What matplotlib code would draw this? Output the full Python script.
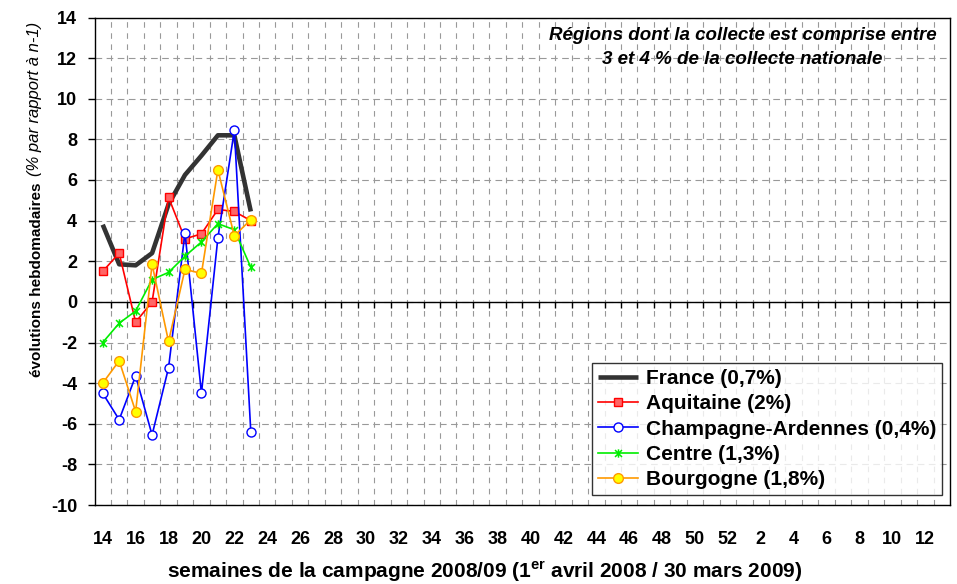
import numpy as np
import matplotlib
matplotlib.use("Agg")
import matplotlib.pyplot as plt
from matplotlib.path import Path

plt.rcParams["font.family"] = ["Liberation Sans", "DejaVu Sans"]
plt.rcParams["axes.unicode_minus"] = False
plt.rcParams["mathtext.fontset"] = "custom"
plt.rcParams["mathtext.bf"] = "Liberation Sans:bold"

# campaign weeks: 14..52 then 1..13
weeks = list(range(14, 53)) + list(range(1, 14))
tick_labels = [str(w) if i % 2 == 0 else "" for i, w in enumerate(weeks)]

france = [3.8, 1.85, 1.8, 2.4, 4.8, 6.25, 7.2, 8.2, 8.2, 4.45]
aquitaine = [1.5, 2.4, -1.0, 0.0, 5.15, 3.1, 3.35, 4.55, 4.45, 4.0]
champagne = [-4.5, -5.8, -3.65, -6.55, -3.25, 3.4, -4.5, 3.15, 8.45, -6.4]
centre = [-2.0, -1.05, -0.45, 1.1, 1.45, 2.25, 2.95, 3.85, 3.55, 1.7]
bourgogne = [-4.0, -2.9, -5.4, 1.85, -1.95, 1.6, 1.4, 6.5, 3.25, 4.05]

series_labels = [
    "France (0,7%)",
    "Aquitaine (2%)",
    "Champagne-Ardennes (0,4%)",
    "Centre (1,3%)",
    "Bourgogne (1,8%)",
]

# excel-like "star" marker: an x with a vertical bar
star = Path(
    [(-1, -1), (1, 1), (-1, 1), (1, -1), (0, -1.2), (0, 1.2)],
    [Path.MOVETO, Path.LINETO, Path.MOVETO, Path.LINETO, Path.MOVETO, Path.LINETO],
)

fig = plt.figure(figsize=(9.57, 5.84), dpi=100)
ax = fig.add_axes([94.5 / 957, 1 - 505 / 584, 855.5 / 957, 487.5 / 584])

x = np.arange(len(france))
ax.plot(x, france, color="#333333", lw=3.3, solid_capstyle="butt", label=series_labels[0], zorder=3)
ax.plot(x, aquitaine, color="#ff0000", lw=1.2, marker="s", ms=6,
        mfc="#ff6666", mec="#ff0000", mew=1, label=series_labels[1], zorder=4)
ax.plot(x, champagne, color="#0000ff", lw=1.2, marker="o", ms=6.5,
        mfc="white", mec="#0000ff", mew=1, label=series_labels[2], zorder=4)
ax.plot(x, centre, color="#00ee00", lw=1.2, marker=star, ms=6,
        mec="#00ee00", mew=1.1, label=series_labels[3], zorder=4)
ax.plot(x, bourgogne, color="#ff9900", lw=1.2, marker="o", ms=7,
        mfc="#ffff00", mec="#ff9900", mew=1, label=series_labels[4], zorder=4)

n = len(weeks)
ax.set_xlim(-0.5, n - 0.5)
ax.set_ylim(-10, 14)
ax.set_xticks(np.arange(n))
ax.set_xticklabels(tick_labels)
ax.set_xticks(np.arange(n - 1) + 0.5, minor=True)
ax.set_yticks(np.arange(-10, 15, 2))
ax.tick_params(axis="x", which="both", length=0, pad=19, labelsize=13)
ax.tick_params(axis="y", length=5, width=1, direction="out", labelsize=13, pad=7.5)
for lab in ax.get_xticklabels() + ax.get_yticklabels():
    lab.set_fontweight("bold")

ax.grid(axis="x", which="minor", color="#999999", lw=0.8, linestyle=(0, (5, 5)))
ax.grid(axis="y", which="major", color="#999999", lw=0.8, linestyle=(0, (6, 4)))
ax.set_axisbelow(True)

# category axis crossing at zero, ticks between categories
ax.axhline(0, color="black", lw=1, zorder=2)
ax.plot(np.arange(n - 1) + 0.5, np.zeros(n - 1), ls="none", marker=3,
        ms=4, mec="black", mew=1, zorder=2)

for side in ["top", "right", "bottom", "left"]:
    ax.spines[side].set_color("black")
    ax.spines[side].set_linewidth(1)

ax.text(0.7575, 0.98, "Régions dont la collecte est comprise entre\n3 et 4 % de la collecte nationale",
        transform=ax.transAxes, ha="center", va="top", fontsize=13.5,
        fontweight="bold", fontstyle="italic", linespacing=1.5)

fig.text(485 / 957, 1 - 572 / 584,
         "semaines de la campagne 2008/09 (1$^{\\mathbf{er}}$ avril 2008 / 30 mars 2009)",
         ha="center", va="center", fontsize=15, fontweight="bold")

fig.text(37 / 957, 1 - 377 / 584, "évolutions hebdomadaires", rotation=90,
         ha="center", va="bottom", fontsize=11, fontweight="bold")
fig.text(35 / 957, 1 - 22 / 584, "(% par rapport à n-1)", rotation=90,
         ha="center", va="top", fontsize=12, fontstyle="italic")

leg = ax.legend(loc="lower right", bbox_to_anchor=(0.9907, 0.0205), borderaxespad=0,
                fontsize=15, frameon=True, fancybox=False, edgecolor="black",
                handlelength=1.9, labelspacing=0.3, borderpad=0.28, handletextpad=0.4)
leg.get_frame().set_linewidth(1)
for t in leg.get_texts():
    t.set_fontweight("bold")

fig.savefig("out.png", dpi=100)
